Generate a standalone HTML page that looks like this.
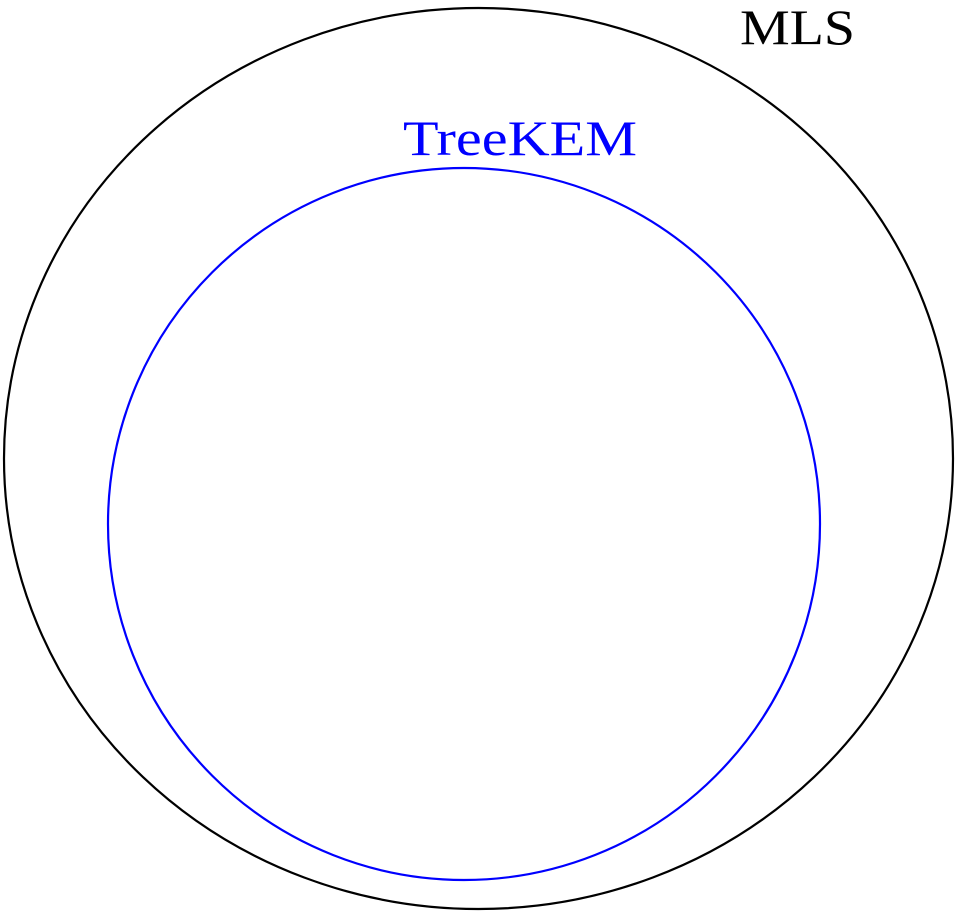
<!DOCTYPE html>
<html>
<head>
<meta charset="utf-8">
<style>
  html, body { margin: 0; padding: 0; background: #fff; }
  svg { display: block; }
</style>
</head>
<body>
<svg width="957" height="913" viewBox="0 0 957 913" xmlns="http://www.w3.org/2000/svg">
  <ellipse cx="478.5" cy="458.5" rx="474.5" ry="450.5" fill="none" stroke="#000" stroke-width="2.2"/>
  <circle cx="464" cy="524" r="356" fill="none" stroke="#0000ff" stroke-width="2.2"/>
  <text x="740" y="44" font-family="'Liberation Serif', serif" font-size="50" fill="#000" textLength="115" lengthAdjust="spacingAndGlyphs">MLS</text>
  <text x="403" y="155" font-family="'Liberation Serif', serif" font-size="50" fill="#0000ff" textLength="234" lengthAdjust="spacingAndGlyphs">TreeKEM</text>
</svg>
</body>
</html>
